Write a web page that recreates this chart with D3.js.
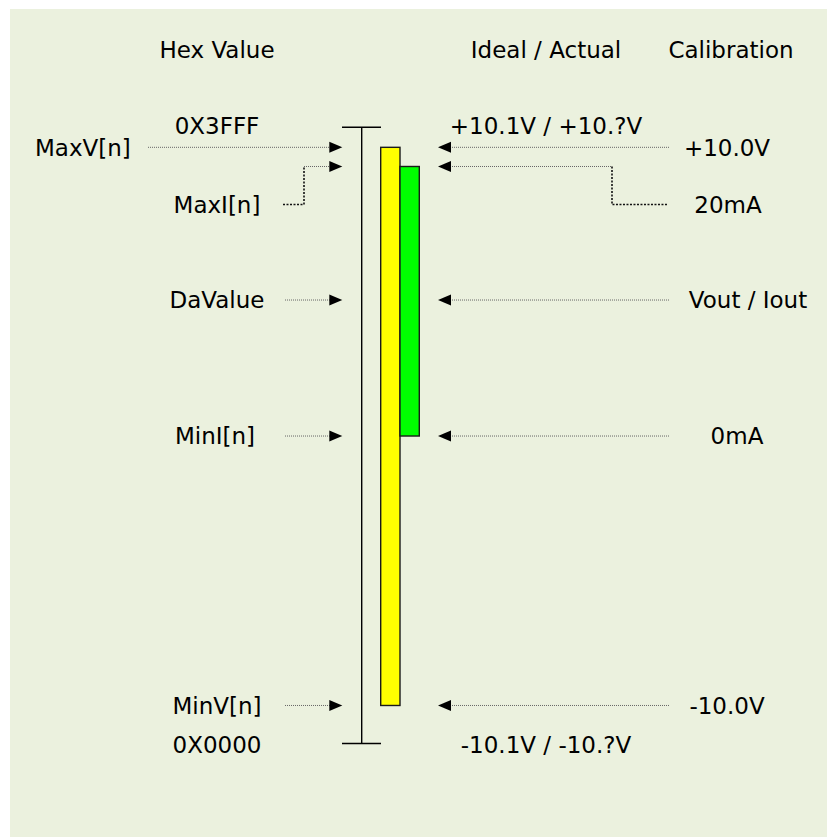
<!DOCTYPE html>
<html>
<head>
<meta charset="utf-8">
<script src="https://cdn.jsdelivr.net/npm/d3@7"></script>
<style>
  body { margin: 0; background: #ffffff; }
  svg text { font-family: "DejaVu Sans", Verdana, sans-serif; font-size: 23px; fill: #000; }
</style>
</head>
<body>
<svg width="832" height="837"></svg>
<script>
// Data: levels in % of the full DA scale (0X0000 .. 0X3FFF)
var headers = ["Hex Value", "Ideal / Actual", "Calibration"];
var scaleTop = ["0X3FFF", "+10.1V / +10.?V"];
var scaleBottom = ["0X0000", "-10.1V / -10.?V"];
var leftLabels = ["MaxV[n]", "MaxI[n]", "DaValue", "MinI[n]", "MinV[n]"];
var rightLabels = ["+10.0V", "20mA", "Vout / Iout", "0mA", "-10.0V"];
var levels = [96.75, 93.64, 71.97, 49.9, 6.17];
var labelLevels = [96.75, 87.47, 71.97, 49.9, 6.17];
var voltageRange = [6.17, 96.75];   // MinV .. MaxV
var currentRange = [49.9, 93.64];   // MinI .. MaxI

var svg = d3.select("svg"),
    width = +svg.attr("width"),
    height = +svg.attr("height");

// light green panel
svg.append("rect")
    .attr("x", 10).attr("y", 9)
    .attr("width", 817).attr("height", 828)
    .attr("fill", "#EBF1DE");

var y = d3.scaleLinear().domain([0, 100]).range([743.5, 127.3]);

var axisX = 361.7;
var g = svg.append("g");

// headers
var headerX = [217, 546, 731];
g.selectAll("text.header")
    .data(headers)
    .join("text")
    .attr("class", "header")
    .attr("x", (d, i) => headerX[i])
    .attr("y", 50)
    .attr("dy", "0.36em")
    .attr("text-anchor", "middle")
    .text(d => d);

// scale end labels
var endX = [217, 546];
g.selectAll("text.top")
    .data(scaleTop)
    .join("text")
    .attr("x", (d, i) => endX[i])
    .attr("y", y(100) - 2)
    .attr("dy", "0.36em")
    .attr("text-anchor", "middle")
    .text(d => d);
g.selectAll("text.bottom")
    .data(scaleBottom)
    .join("text")
    .attr("x", (d, i) => endX[i])
    .attr("y", y(0) + 1)
    .attr("dy", "0.36em")
    .attr("text-anchor", "middle")
    .text(d => d);

// vertical scale with caps
g.append("line")
    .attr("x1", axisX).attr("x2", axisX)
    .attr("y1", y(100)).attr("y2", y(0))
    .attr("stroke", "#000").attr("stroke-width", 1.4);
[100, 0].forEach(function(v) {
    g.append("line")
        .attr("x1", 342).attr("x2", 381)
        .attr("y1", y(v)).attr("y2", y(v))
        .attr("stroke", "#000").attr("stroke-width", 1.4);
});

// bars
g.append("rect")
    .attr("x", 380.7).attr("width", 19.3)
    .attr("y", y(voltageRange[1])).attr("height", y(voltageRange[0]) - y(voltageRange[1]))
    .attr("fill", "#FFFF00").attr("stroke", "#1a1a1a").attr("stroke-width", 1.4);
g.append("rect")
    .attr("x", 400).attr("width", 19.3)
    .attr("y", y(currentRange[1])).attr("height", y(currentRange[0]) - y(currentRange[1]))
    .attr("fill", "#00FF00").attr("stroke", "#1a1a1a").attr("stroke-width", 1.4);

// left labels and arrows
var leftTextX = [35, 217, 217, 215, 217];
var leftLineStart = [148, 304, 285, 285, 285];
var rightTextX = [727, 728, 748, 737, 727];
var rightLineEnd = [670, 612, 670, 670, 670];

g.selectAll("text.left")
    .data(leftLabels)
    .join("text")
    .attr("class", "left")
    .attr("x", (d, i) => leftTextX[i])
    .attr("y", (d, i) => y(labelLevels[i]))
    .attr("dy", "0.36em")
    .attr("text-anchor", (d, i) => i === 0 ? "start" : "middle")
    .text(d => d);

g.selectAll("text.right")
    .data(rightLabels)
    .join("text")
    .attr("class", "right")
    .attr("x", (d, i) => rightTextX[i])
    .attr("y", (d, i) => y(labelLevels[i]))
    .attr("dy", "0.36em")
    .attr("text-anchor", "middle")
    .text(d => d);

var lineColor = "#666";
var tipL = 342.3, tipR = 438;

g.selectAll("line.lleft")
    .data(levels)
    .join("line")
    .attr("x1", (d, i) => leftLineStart[i]).attr("x2", tipL - 12)
    .attr("y1", d => y(d)).attr("y2", d => y(d))
    .attr("stroke", lineColor).attr("stroke-width", 1).attr("stroke-dasharray", "1,1");

g.selectAll("line.lright")
    .data(levels)
    .join("line")
    .attr("x1", tipR + 12).attr("x2", (d, i) => rightLineEnd[i])
    .attr("y1", d => y(d)).attr("y2", d => y(d))
    .attr("stroke", lineColor).attr("stroke-width", 1).attr("stroke-dasharray", "1,1");

// arrowheads
g.selectAll("path.aleft")
    .data(levels)
    .join("path")
    .attr("d", d => `M${tipL},${y(d)} L${tipL - 13},${y(d) - 5.5} L${tipL - 13},${y(d) + 5.5} Z`)
    .attr("fill", "#000");
g.selectAll("path.aright")
    .data(levels)
    .join("path")
    .attr("d", d => `M${tipR},${y(d)} L${tipR + 13},${y(d) - 5.5} L${tipR + 13},${y(d) + 5.5} Z`)
    .attr("fill", "#000");

// MaxI / 20mA connectors
g.append("path")
    .attr("d", `M283,${y(labelLevels[1])} H304 V${y(levels[1])}`)
    .attr("fill", "none").attr("stroke", "#111").attr("stroke-width", 1.6)
    .attr("stroke-dasharray", "2,1.5");
g.append("path")
    .attr("d", `M612,${y(levels[1])} V${y(labelLevels[1])} H668`)
    .attr("fill", "none").attr("stroke", "#111").attr("stroke-width", 1.6)
    .attr("stroke-dasharray", "2,1.5");
</script>
</body>
</html>
